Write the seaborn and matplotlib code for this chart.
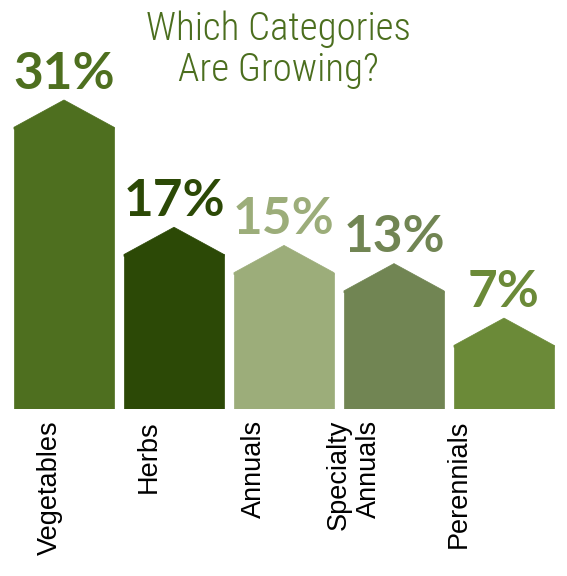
import numpy as np
import pandas as pd
import matplotlib
matplotlib.use("Agg")
import matplotlib.pyplot as plt
import seaborn as sns
from matplotlib.patches import Polygon
from matplotlib.transforms import ScaledTranslation

categories = ["Vegetables", "Herbs", "Annuals", "Specialty\nAnnuals", "Perennials"]
values = [31, 17, 15, 13, 7]
labels = ["31%", "17%", "15%", "13%", "7%"]
colors = ["#4e6f1f", "#2c4906", "#9cad7a", "#718553", "#6b8a38"]

df = pd.DataFrame({"category": categories, "pct": values})

sns.set_style("white")

fig = plt.figure(figsize=(5.67, 5.76), dpi=100)
ax = fig.add_axes([9 / 567, 167 / 576, 550 / 567, 409 / 576])

sns.barplot(data=df, x="category", y="pct", hue="category", palette=colors,
            width=0.91, saturation=1, legend=False, ax=ax, linewidth=0, edgecolor="none")

# pointed roof on each bar
roof = 3
for patch, v, lab, c in zip(ax.patches, values, labels, colors):
    patch.set_edgecolor(c)
    patch.set_linewidth(0.5)
    x0 = patch.get_x()
    w = patch.get_width()
    h = patch.get_height()
    ax.add_patch(Polygon([(x0, h - 0.2), (x0, h), (x0 + w / 2, h + roof), (x0 + w, h), (x0 + w, h - 0.2)],
                         closed=True, facecolor=c, edgecolor=c, linewidth=0.5))
    ax.annotate(lab, (x0 + w / 2, h + roof), xytext=(0, 8), textcoords="offset points",
                ha="center", va="baseline", fontsize=37, fontweight="bold",
                family=["Lato", "DejaVu Sans"], color=c)

ax.set_xlim(-0.5, 4.5)
ax.set_ylim(0, 45)
ax.set_xlabel("")
ax.set_ylabel("")
ax.set_yticks([])
sns.despine(ax=ax, left=True, bottom=True)
ax.tick_params(axis="x", length=0, pad=8)
ax.set_xticks(range(len(categories)))
ax.set_xticklabels(categories, rotation=90, fontsize=19.5,
                   family=["Liberation Sans", "DejaVu Sans"], color="black")

# labels sit a bit left of the bar centres in the original
shifts = [-14, -25, -30, -40, -45]
for t, dx in zip(ax.get_xticklabels(), shifts):
    t.set_multialignment("right")
    t.set_transform(t.get_transform() + ScaledTranslation(dx / 100, 0, fig.dpi_scale_trans))

fig.text(278 / 567, 1 - 10 / 576, "Which Categories\nAre Growing?", ha="center", va="top",
         fontsize=28, color="#4b6e1e", linespacing=1.12, fontweight=300,
         family=["Roboto Condensed", "DejaVu Sans"])

fig.savefig("out.png", dpi=100)
